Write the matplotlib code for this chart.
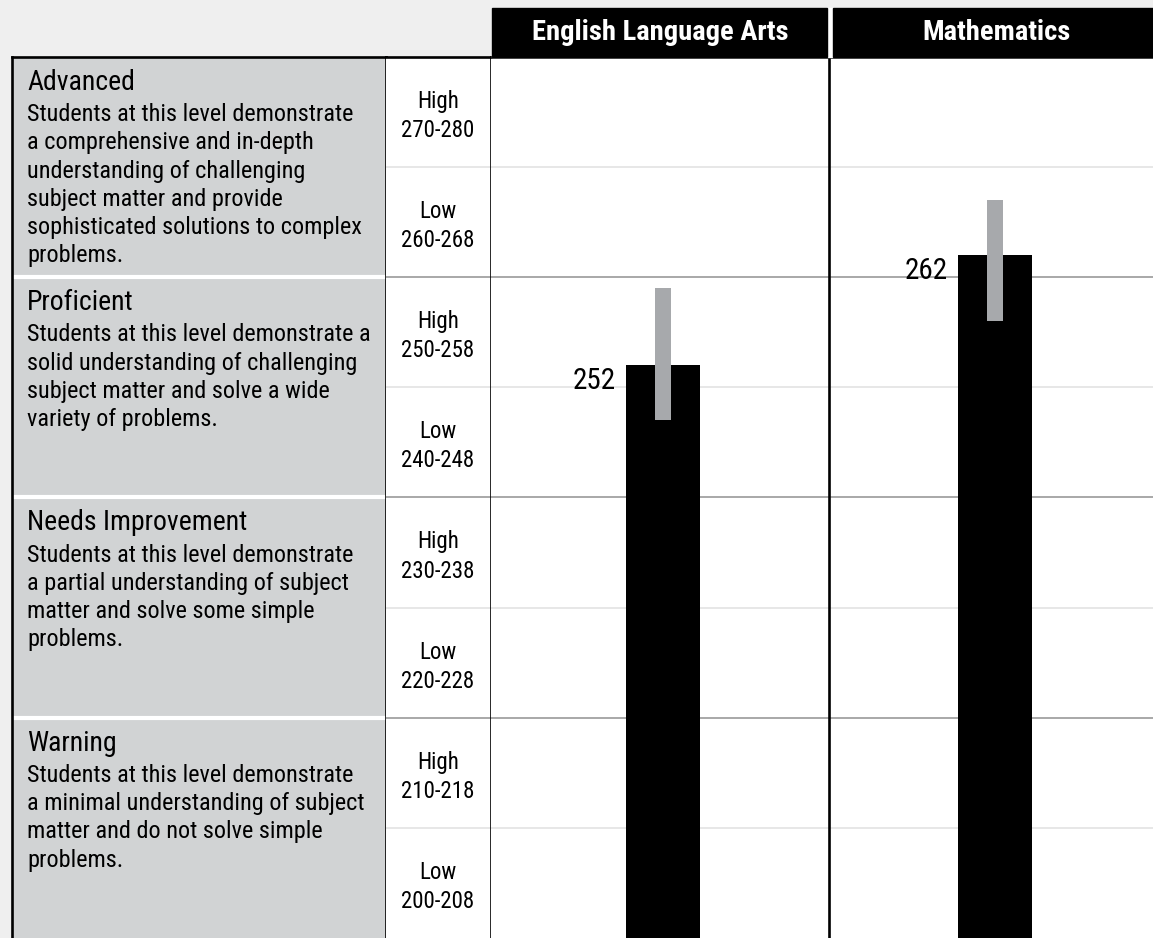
import matplotlib.pyplot as plt
from matplotlib import font_manager
from matplotlib.patches import Rectangle

# pick a condensed sans if one is installed
names = {f.name for f in font_manager.fontManager.ttflist}
cands = ['Liberation Sans Narrow', 'DejaVu Sans Condensed', 'Roboto Condensed', 'Liberation Sans']
font = [c for c in cands if c in names][0]
plt.rcParams['font.family'] = [font, 'DejaVu Sans']

subjects = ['English Language Arts', 'Mathematics']
scores = [252, 262]
range_lo = [247, 256]
range_hi = [259, 267]

levels = ['Advanced', 'Proficient', 'Needs Improvement', 'Warning']
level_top = [280, 260, 240, 220]
level_text = [
    'Students at this level demonstrate\na comprehensive and in-depth\nunderstanding of challenging\n'
    'subject matter and provide\nsophisticated solutions to complex\nproblems.',
    'Students at this level demonstrate a\nsolid understanding of challenging\n'
    'subject matter and solve a wide\nvariety of problems.',
    'Students at this level demonstrate\na partial understanding of subject\n'
    'matter and solve some simple\nproblems.',
    'Students at this level demonstrate\na minimal understanding of subject\n'
    'matter and do not solve simple\nproblems.',
]
band_top = [280, 270, 260, 250, 240, 230, 220, 210]
band_name = ['High', 'Low'] * 4
band_range = ['270-280', '260-268', '250-258', '240-248',
              '230-238', '220-228', '210-218', '200-208']
major_lines = [260, 240, 220]
minor_lines = [270, 250, 230, 210]

W, H = 1153, 938
PX = 80 / 881.0  # score points per pixel


def rect(x0, y0, x1, y1):
    return [x0 / W, 1 - y1 / H, (x1 - x0) / W, (y1 - y0) / H]


fig = plt.figure(figsize=(W / 100, H / 100), dpi=100)
fig.patch.set_facecolor('#efefef')

ax_desc = fig.add_axes(rect(12, 57, 386, 938))
ax_rng = fig.add_axes(rect(386, 57, 491, 938), sharey=ax_desc)
ax = fig.add_axes(rect(491, 57, 1153, 938), sharey=ax_desc)
ax.set_ylim(200, 280)

for a in (ax_desc, ax_rng, ax):
    a.set_xticks([])
    a.set_yticks([])
    a.tick_params(left=False, bottom=False, labelleft=False, labelbottom=False)
    for s in a.spines.values():
        s.set_linewidth(1.9)
        s.set_color('black')
    a.spines['bottom'].set_visible(False)
ax.spines['right'].set_visible(False)
ax_rng.spines['left'].set_visible(False)
ax.spines['left'].set_visible(False)

# left description panels
ax_desc.set_facecolor('#d1d3d4')
ax_desc.set_xlim(0, 374)
for b in major_lines:
    ax_desc.axhline(b, color='white', lw=3, zorder=1)
for name, top, txt in zip(levels, level_top, level_text):
    ax_desc.text(15, top - 33 * PX, name, fontsize=20, va='baseline', ha='left')
    for i, line in enumerate(txt.split('\n')):
        ax_desc.text(15, top - (64 + 28.3 * i) * PX, line, fontsize=17.5,
                     va='baseline', ha='left')

# range column
ax_rng.set_facecolor('white')
ax_rng.set_xlim(0, 105)
for v in minor_lines:
    ax_rng.axhline(v, color='#e3e3e3', lw=1.2, zorder=0)
for v in major_lines:
    ax_rng.axhline(v, color='#9a9a9a', lw=1.2, zorder=0)
for top, nm, rg in zip(band_top, band_name, band_range):
    ax_rng.text(52, top - 51 * PX, nm, fontsize=16.5, ha='center', va='baseline')
    ax_rng.text(52, top - 80 * PX, rg, fontsize=16.5, ha='center', va='baseline')

# chart
ax.set_facecolor('white')
ax.set_xlim(-0.518, 1.476)
for v in minor_lines:
    ax.axhline(v, color='#e3e3e3', lw=1.2, zorder=0)
for v in major_lines:
    ax.axhline(v, color='#9a9a9a', lw=1.2, zorder=0)
ax.axvline(0.5, color='black', lw=1.9, zorder=3)

x = [0, 1]
ax.bar(x, scores, width=0.222, color='black', zorder=2)
ax.bar(x, [h - l for h, l in zip(range_hi, range_lo)], bottom=range_lo,
       width=0.051, color='#a7a9ac', zorder=3)
for xi, s in zip(x, scores):
    ax.text(xi - 0.111 - 0.03, s - 1.4, str(s), fontsize=21, ha='right',
            va='center')

# header boxes
fig.patches.append(Rectangle((492 / W, 1 - 57 / H), (1153 - 492) / W, 49 / H,
                             transform=fig.transFigure, color='white', zorder=0))
fig.patches.append(Rectangle((492 / W, 1 - 57 / H), (827 - 492) / W, 49 / H,
                             transform=fig.transFigure, color='black', zorder=1))
fig.patches.append(Rectangle((833 / W, 1 - 57 / H), (1153 - 833) / W, 49 / H,
                             transform=fig.transFigure, color='black', zorder=1))
fig.text(660 / W, 1 - 33 / H, subjects[0], color='white', fontsize=20.5,
         fontweight='bold', ha='center', va='center')
fig.text(996 / W, 1 - 33 / H, subjects[1], color='white', fontsize=20.5,
         fontweight='bold', ha='center', va='center')

fig.savefig('out.png', dpi=100, facecolor=fig.get_facecolor())
